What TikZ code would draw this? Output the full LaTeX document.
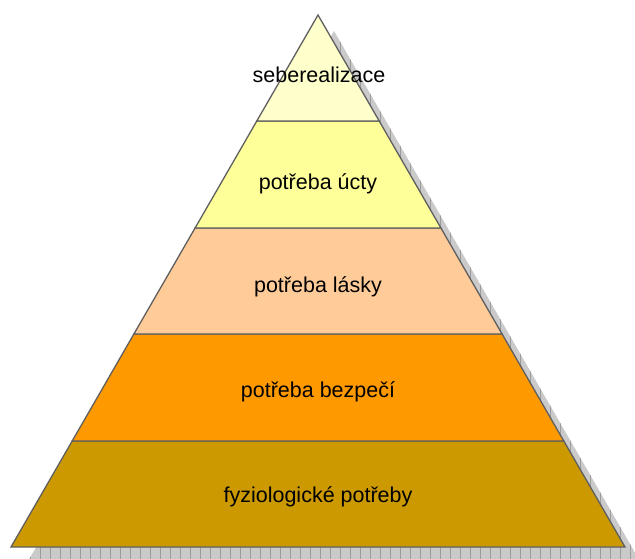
\documentclass[tikz,border=0pt]{standalone}
\usepackage{fontspec}
\setmainfont{Liberation Sans}
\definecolor{lay1}{HTML}{FFFFCC}
\definecolor{lay2}{HTML}{FFFF99}
\definecolor{lay3}{HTML}{FFCC99}
\definecolor{lay4}{HTML}{FF9900}
\definecolor{lay5}{HTML}{CC9900}
\definecolor{edge}{HTML}{5F5F5F}
\definecolor{shadowfill}{HTML}{CACACA}
\definecolor{shadowline}{HTML}{9C9C9C}
\tikzset{
  layer/.style={draw=edge, line width=1.3pt, line join=miter},
  label/.style={anchor=base, font=\fontsize{21.5}{25}\selectfont, text=black, inner sep=0pt}
}
\begin{document}
\begin{tikzpicture}[x=1pt,y=-1pt]
\useasboundingbox (0,0) rectangle (635,559);
% shadow
\begin{scope}
  \clip (0,0) rectangle (635,559);
  \clip (334,31) -- (27,563) -- (641,563) -- cycle;
  \fill[shadowfill] (0,0) rectangle (660,600);
  \draw[shadowline, line width=0.6pt, step=10] (0,0) grid (660,600);
\end{scope}
% boundary coordinates
\coordinate (apex) at (318,15);
\coordinate (l1) at (256.8,121); \coordinate (r1) at (379.2,121);
\coordinate (l2) at (195.1,228); \coordinate (r2) at (440.9,228);
\coordinate (l3) at (133.9,334); \coordinate (r3) at (502.1,334);
\coordinate (l4) at (72.2,441);  \coordinate (r4) at (563.8,441);
\coordinate (l5) at (11,547);    \coordinate (r5) at (625,547);
% layers
\filldraw[layer, fill=lay5] (l4) -- (r4) -- (r5) -- (l5) -- cycle;
\filldraw[layer, fill=lay4] (l3) -- (r3) -- (r4) -- (l4) -- cycle;
\filldraw[layer, fill=lay3] (l2) -- (r2) -- (r3) -- (l3) -- cycle;
\filldraw[layer, fill=lay2] (l1) -- (r1) -- (r2) -- (l2) -- cycle;
\filldraw[layer, fill=lay1] (apex) -- (r1) -- (l1) -- cycle;
% labels
\node[label] (t1) at (319,82.7) {seberealizace};
\node[label] (t2) at (318,189.3) {potřeba úcty};
\node[label] (t3) at (318,292.3) {potřeba lásky};
\node[label] (t4) at (318,397) {potřeba bezpečí};
\node[label] (t5) at (318,502) {fyziologické potřeby};
\end{tikzpicture}
\end{document}
